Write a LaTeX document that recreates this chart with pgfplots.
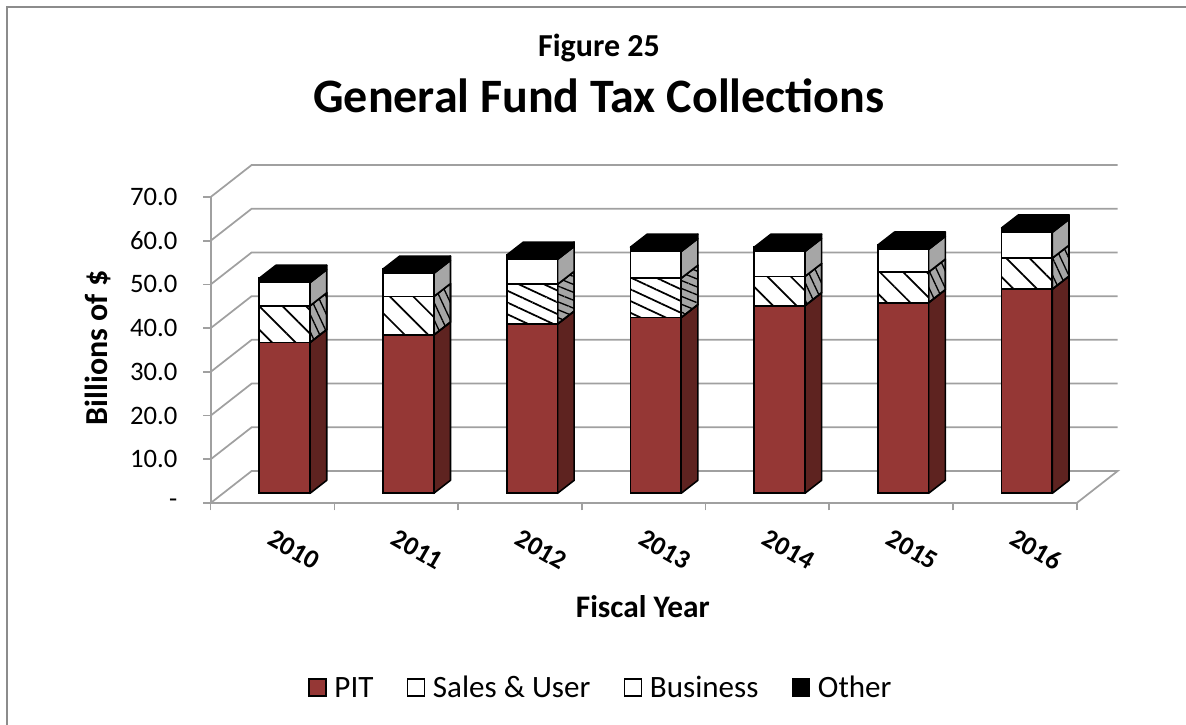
\documentclass[border=0pt]{standalone}
\usepackage{fontspec}
\setmainfont{Carlito}
\usepackage{pgfplots}
\usepackage{pgfplotstable}
\pgfplotsset{compat=1.18}
\usetikzlibrary{patterns.meta}

\definecolor{pit}{HTML}{953735}
\definecolor{pitside}{HTML}{5E2320}
\definecolor{sidegrey}{HTML}{A6A6A6}
\definecolor{gridgrey}{HTML}{A0A0A0}
\definecolor{framegrey}{HTML}{8C8C8C}

% segment heights in $bn; base lifts the bars off the front edge of the floor
% SalesB holds the two years whose hatching is drawn at a flatter angle
\pgfplotstableread{
x     base PIT  Sales SalesB Business Other
0.598 2.22 34.5 8.4   0      5.3      1.0
1.598 2.22 36.2 8.8   0      5.3      1.0
2.598 2.22 38.7 0     9.1    5.7      1.0
3.598 2.22 40.2 0     9.0    6.1      1.0
4.598 2.22 42.9 6.7   0      5.7      1.0
5.598 2.22 43.6 7.0   0      5.2      1.0
6.598 2.22 46.7 7.1   0      5.9      1.0
}\bars

\tikzset{
  sidepit/.style={draw=black, line width=1.2pt, line join=round, fill=pitside},
  sidehatch/.style={draw=black, line width=1.2pt, line join=round, fill=sidegrey,
    postaction={pattern={Lines[angle=-65,distance=5.5pt,line width=1pt]}}},
  sidehatchb/.style={draw=black, line width=1.2pt, line join=round, fill=sidegrey,
    postaction={pattern={Lines[angle=-22,distance=5.5pt,line width=1pt]}}},
  sideplain/.style={draw=black, line width=1.2pt, line join=round, fill=sidegrey},
  blackface/.style={draw=black, line width=1.2pt, line join=round, fill=black},
}

\begin{document}
\begin{tikzpicture}
\useasboundingbox (-158.025pt,-166.5pt) rectangle (731.475pt,377.25pt);
\draw[framegrey, line width=1.6pt] (-152.8pt,-166.5pt) -- (-152.8pt,372pt) -- (731.475pt,372pt);

\begin{axis}[
    at={(0,0)},
    scale only axis,
    width=649.5pt,
    height=229.5pt,
    xmin=0, xmax=7,
    ymin=0, ymax=70,
    clip=false,
    axis lines=left,
    axis line style={-, draw=gridgrey, line width=1.3pt},
    tick align=outside,
    major tick length=5.5pt,
    tick style={draw=gridgrey, line width=1.2pt},
    xtick={0,1,2,3,4,5,6,7},
    xticklabels={},
    ytick={0,10,20,30,40,50,60,70},
    yticklabels={-\hspace{11pt},10.0,20.0,30.0,40.0,50.0,60.0,70.0},
    yticklabel style={font=\fontsize{20}{22}\selectfont, xshift=-16pt},
    extra x ticks={0.665,1.665,2.665,3.665,4.665,5.665,6.665},
    extra x tick labels={2010,2011,2012,2013,2014,2015,2016},
    extra x tick style={major tick length=0pt,
      tick label style={font=\fontsize{20}{22}\selectfont\bfseries, rotate=-30, anchor=center, xshift=18.1pt, yshift=-30pt}},
    title={{\fontsize{24}{28}\selectfont\bfseries Figure 25}\\[11.5pt]{\fontsize{36}{42}\selectfont\bfseries General Fund Tax Collections}},
    title style={align=center, anchor=center, at={(axis description cs:0.4484,1.377)}},
    xlabel={Fiscal Year},
    xlabel style={font=\fontsize{23.5}{26}\selectfont\bfseries, anchor=center, at={(axis description cs:0.499,-0.337)}},
    ylabel={Billions of \$},
    ylabel style={font=\fontsize{24}{26}\selectfont\bfseries, anchor=center, at={(axis description cs:-0.1303,0.5065)}},
]
% back wall gridlines and floor edge
\addplot[gridgrey, line width=1.3pt, no marks] table {
x y
0 0
0.331 7.32
7.331 7.32
7 0

0 10
0.331 17.32
7.331 17.32

0 20
0.331 27.32
7.331 27.32

0 30
0.331 37.32
7.331 37.32

0 40
0.331 47.32
7.331 47.32

0 50
0.331 57.32
7.331 57.32

0 60
0.331 67.32
7.331 67.32

0 70
0.331 77.32
7.331 77.32
};

% side and top faces of the bars
\pgfplotsforeachungrouped \i in {0,...,6}{
  \pgfplotstablegetelem{\i}{x}\of\bars \let\cx\pgfplotsretval
  \pgfplotstablegetelem{\i}{base}\of\bars \let\vb\pgfplotsretval
  \pgfplotstablegetelem{\i}{PIT}\of\bars \let\va\pgfplotsretval
  \pgfplotstablegetelem{\i}{Sales}\of\bars \let\vsa\pgfplotsretval
  \pgfplotstablegetelem{\i}{SalesB}\of\bars \let\vsb\pgfplotsretval
  \pgfplotstablegetelem{\i}{Business}\of\bars \let\vu\pgfplotsretval
  \pgfplotstablegetelem{\i}{Other}\of\bars \let\vo\pgfplotsretval
  \pgfmathsetmacro\xl{\cx-0.205}
  \pgfmathsetmacro\xr{\cx+0.205}
  \pgfmathsetmacro\xlb{\xl+0.135}
  \pgfmathsetmacro\xrb{\xr+0.135}
  \pgfmathsetmacro\ya{\vb}
  \pgfmathsetmacro\yb{\ya+\va}
  \pgfmathsetmacro\yc{\yb+\vsa+\vsb}
  \pgfmathsetmacro\yd{\yc+\vu}
  \pgfmathsetmacro\ye{\yd+\vo}
  \pgfmathsetmacro\yab{\ya+2.97}
  \pgfmathsetmacro\ybb{\yb+2.97}
  \pgfmathsetmacro\ycb{\yc+2.97}
  \pgfmathsetmacro\ydb{\yd+2.97}
  \pgfmathsetmacro\yeb{\ye+2.97}
  \pgfmathtruncatemacro\flat{\vsb>0}
  \ifnum\flat=1 \def\hs{sidehatchb}\else \def\hs{sidehatch}\fi
  \edef\faces{
    \noexpand\addplot[sidepit] coordinates {(\xr,\ya) (\xrb,\yab) (\xrb,\ybb) (\xr,\yb)} -- cycle;
    \noexpand\addplot[\hs] coordinates {(\xr,\yb) (\xrb,\ybb) (\xrb,\ycb) (\xr,\yc)} -- cycle;
    \noexpand\addplot[sideplain] coordinates {(\xr,\yc) (\xrb,\ycb) (\xrb,\ydb) (\xr,\yd)} -- cycle;
    \noexpand\addplot[blackface] coordinates {(\xr,\yd) (\xrb,\ydb) (\xrb,\yeb) (\xr,\ye)} -- cycle;
    \noexpand\addplot[blackface] coordinates {(\xl,\ye) (\xr,\ye) (\xrb,\yeb) (\xlb,\yeb)} -- cycle;
  }
  \faces
}
\end{axis}

% front faces of the bars, same scales as above
\begin{axis}[
    at={(0,0)},
    scale only axis,
    width=649.5pt,
    height=229.5pt,
    xmin=0, xmax=7,
    ymin=0, ymax=70,
    clip=false,
    hide axis,
    ybar stacked,
    bar width=0.41,
    legend style={at={(axis description cs:0.451,-0.605)}, anchor=center, draw=none, fill=none,
      legend columns=4, font=\fontsize{23.3}{25}\selectfont,
      /tikz/every even column/.append style={column sep=23pt}},
    legend image code/.code={\draw[#1] (0pt,-6pt) rectangle (12.75pt,6.75pt); \path[draw=none,fill=none] (0pt,0pt) -- (17pt,0pt);},
]
\addlegendimage{draw=black, line width=1.2pt, fill=pit}
\addlegendentry{PIT}
\addlegendimage{draw=black, line width=1.2pt, fill=white}
\addlegendentry{Sales \& User}
\addlegendimage{draw=black, line width=1.2pt, fill=white}
\addlegendentry{Business}
\addlegendimage{draw=black, line width=1.2pt, fill=black}
\addlegendentry{Other}
\addplot[draw=none, fill=none, forget plot] table[x=x, y=base] {\bars};
\addplot[draw=black, line width=1.3pt, fill=pit, forget plot] table[x=x, y=PIT] {\bars};
\addplot[draw=black, line width=1.3pt, fill=white, forget plot,
    postaction={pattern={Lines[angle=-45,distance=12.4pt,line width=1.3pt]}}] table[x=x, y=Sales] {\bars};
\addplot[draw=black, line width=1.3pt, fill=white, forget plot,
    postaction={pattern={Lines[angle=-25,distance=8pt,line width=1.3pt]}}] table[x=x, y=SalesB] {\bars};
\addplot[draw=black, line width=1.3pt, fill=white, forget plot] table[x=x, y=Business] {\bars};
\addplot[draw=black, line width=1.3pt, fill=black, forget plot] table[x=x, y=Other] {\bars};
\end{axis}
\end{tikzpicture}
\end{document}
